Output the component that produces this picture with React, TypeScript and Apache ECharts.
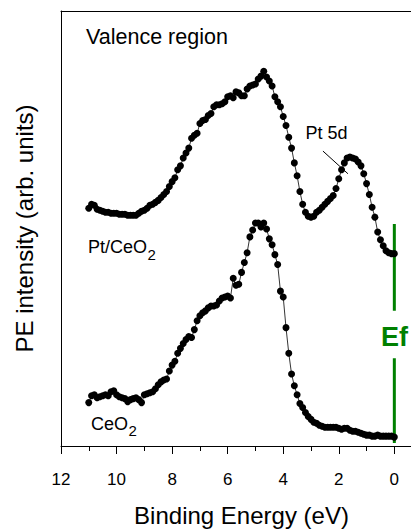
import React, { useEffect, useRef } from "react";
import * as echarts from "echarts";

// Binding energy grid (eV)
const energies = [
  11.0, 10.9, 10.8, 10.7, 10.6, 10.5, 10.4, 10.3, 10.2, 10.1,
  10.0, 9.9, 9.8, 9.7, 9.6, 9.5, 9.4, 9.3, 9.2, 9.1,
  9.0, 8.9, 8.8, 8.7, 8.6, 8.5, 8.4, 8.3, 8.2, 8.1,
  8.0, 7.9, 7.8, 7.7, 7.6, 7.5, 7.4, 7.3, 7.2, 7.1,
  7.0, 6.9, 6.8, 6.7, 6.6, 6.5, 6.4, 6.3, 6.2, 6.1,
  6.0, 5.9, 5.8, 5.7, 5.6, 5.5, 5.4, 5.3, 5.2, 5.1,
  5.0, 4.9, 4.8, 4.7, 4.6, 4.5, 4.4, 4.3, 4.2, 4.1,
  4.0, 3.9, 3.8, 3.7, 3.6, 3.5, 3.4, 3.3, 3.2, 3.1,
  3.0, 2.9, 2.8, 2.7, 2.6, 2.5, 2.4, 2.3, 2.2, 2.1,
  2.0, 1.9, 1.8, 1.7, 1.6, 1.5, 1.4, 1.3, 1.2, 1.1,
  1.0, 0.9, 0.8, 0.7, 0.6, 0.5, 0.4, 0.3, 0.2, 0.1,
  0.0,
];

// Pt/CeO2 spectrum (arb. units, offset)
const ptCeO2 = [
  241, 245, 244, 240, 239, 238, 237, 237, 236, 236,
  236, 235, 235, 235, 234, 234, 234, 234, 236, 238,
  239, 241, 244, 245, 247, 249, 252, 255, 258, 263,
  268, 272, 280, 284, 292, 297, 302, 312, 315, 317,
  327, 330, 331, 335, 337, 344, 346, 346, 347, 349,
  354, 355, 353, 359, 358, 355, 355, 362, 365, 366,
  367, 372, 375, 380, 374, 370, 365, 354, 349, 344,
  334, 325, 313, 302, 287, 274, 258, 245, 237, 233,
  232, 233, 237, 239, 242, 245, 248, 251, 254, 261,
  271, 280, 287, 292, 293, 292, 291, 288, 284, 276,
  266, 255, 242, 232, 217, 209, 203, 198, 196, 195,
  195,
];

// CeO2 spectrum (arb. units)
const ceO2 = [
  44, 51, 52, 49, 50, 51, 52, 51, 55, 56,
  52, 50, 49, 48, 45, 47, 48, 49, 47, 44,
  52, 53, 54, 55, 58, 62, 65, 67, 68, 76,
  82, 86, 94, 99, 104, 108, 111, 110, 118, 127,
  132, 135, 137, 140, 142, 142, 143, 147, 150, 151,
  152, 150, 170, 163, 164, 176, 186, 196, 212, 219,
  226, 226, 222, 226, 220, 210, 204, 194, 184, 157,
  151, 120, 94, 73, 61, 52, 43, 39, 34, 30,
  27, 24, 23, 21, 20, 19, 19, 19, 19, 19,
  18, 17, 18, 18, 16, 15, 15, 14, 13, 12,
  11, 11, 10, 10, 11, 10, 10, 10, 10, 10,
  9,
];

const xMajorTicks = [0, 2, 4, 6, 8, 10, 12];
const xMinorTicks = [1, 3, 5, 7, 9, 11];

// Fermi-level marker segments and Pt 5d pointer (data coordinates)
const fermiUpper = [[0, 225], [0, 137]];
const fermiLower = [[0, 89], [0, 3]];
const pt5dPointer = [[2.57, 299], [1.67, 276]];

const FONT = "'Liberation Sans', Arial, Helvetica, sans-serif";

function textWidth(text: string, size: number): number {
  const c = document.createElement("canvas").getContext("2d");
  if (!c) return text.length * size * 0.55;
  c.font = `${size}px ${FONT}`;
  return c.measureText(text).width;
}

export default function App() {
  const ref = useRef<HTMLDivElement>(null);

  useEffect(() => {
    if (!ref.current) return;
    const chart = echarts.init(ref.current, undefined, { renderer: "svg" });

    const baseX = {
      type: "value",
      min: -0.6,
      max: 12,
      inverse: true,
      splitLine: { show: false },
    };

    const mainSize = 18;
    const subSize = 15;
    const ptLeft = 88;
    const ceLeft = 91;
    const ptSubX = ptLeft + textWidth("Pt/CeO", mainSize) + 0.5;
    const ceSubX = ceLeft + textWidth("CeO", mainSize) + 0.5;

    const txt = (
      text: string,
      x: number,
      y: number,
      size: number,
      extra: Record<string, unknown> = {}
    ) => ({
      type: "text",
      x,
      y,
      z: 10,
      style: {
        text,
        fontFamily: FONT,
        fontSize: size,
        fill: "#000",
        align: "left",
        verticalAlign: "middle",
        ...extra,
      },
    });

    chart.setOption({
      animation: false,
      backgroundColor: "#ffffff",
      grid: { left: 61, top: 11, right: 0, bottom: 80 },
      xAxis: [
        {
          ...baseX,
          position: "bottom",
          name: "Binding Energy (eV)",
          nameLocation: "middle",
          nameGap: 57,
          nameTextStyle: {
            fontFamily: FONT,
            fontSize: 24,
            color: "#000",
            padding: [0, 0, 0, 11],
          },
          axisLine: { show: true, onZero: false, lineStyle: { color: "#000", width: 1 } },
          axisTick: {
            show: true,
            customValues: xMajorTicks,
            length: 8,
            lineStyle: { color: "#000", width: 1 },
          },
          axisLabel: {
            show: true,
            customValues: xMajorTicks,
            margin: 25,
            fontFamily: FONT,
            fontSize: 17,
            color: "#000",
          },
        },
        {
          ...baseX,
          position: "bottom",
          axisLine: { show: false, onZero: false },
          axisTick: {
            show: true,
            customValues: xMinorTicks,
            length: 5,
            lineStyle: { color: "#000", width: 1 },
          },
          axisLabel: { show: false },
        },
        {
          ...baseX,
          position: "top",
          axisLine: { show: true, onZero: false, lineStyle: { color: "#000", width: 1 } },
          axisTick: { show: false },
          axisLabel: { show: false },
        },
      ],
      yAxis: {
        type: "value",
        min: 0,
        max: 441,
        position: "left",
        name: "PE intensity (arb. units)",
        nameLocation: "middle",
        nameGap: 25,
        nameTextStyle: { fontFamily: FONT, fontSize: 24, color: "#000" },
        axisLine: { show: true, onZero: false, lineStyle: { color: "#000", width: 1 } },
        axisTick: { show: false },
        axisLabel: { show: false },
        splitLine: { show: false },
      },
      series: [
        {
          type: "line",
          xAxisIndex: 0,
          data: energies.map((e, i) => [e, ptCeO2[i]]),
          symbol: "circle",
          symbolSize: 7,
          showAllSymbol: true,
          lineStyle: { color: "#000", width: 0.8 },
          itemStyle: { color: "#000" },
          z: 3,
        },
        {
          type: "line",
          xAxisIndex: 0,
          data: energies.map((e, i) => [e, ceO2[i]]),
          symbol: "circle",
          symbolSize: 7,
          showAllSymbol: true,
          lineStyle: { color: "#000", width: 0.8 },
          itemStyle: { color: "#000" },
          z: 3,
        },
        {
          type: "line",
          xAxisIndex: 0,
          data: fermiUpper,
          symbol: "none",
          lineStyle: { color: "#008000", width: 3 },
          z: 2,
        },
        {
          type: "line",
          xAxisIndex: 0,
          data: fermiLower,
          symbol: "none",
          lineStyle: { color: "#008000", width: 3 },
          z: 2,
        },
        {
          type: "line",
          xAxisIndex: 0,
          data: pt5dPointer,
          symbol: "none",
          lineStyle: { color: "#000", width: 1 },
          z: 2,
        },
      ],
      graphic: [
        txt("Valence region", 86, 37, 21.5),
        txt("Pt 5d", 305.5, 133, 18),
        txt("Pt/CeO", ptLeft, 247, mainSize),
        txt("2", ptSubX, 254, subSize),
        txt("CeO", ceLeft, 423.5, mainSize),
        txt("2", ceSubX, 430, subSize),
        {
          type: "text",
          x: 394.5,
          y: 337,
          z: 10,
          style: {
            text: "Ef",
            fontFamily: FONT,
            fontSize: 27,
            fontWeight: "bold",
            fill: "#008000",
            align: "center",
            verticalAlign: "middle",
          },
        },
      ],
    });

    return () => {
      chart.dispose();
    };
  }, []);

  return (
    <div
      ref={ref}
      style={{ position: "fixed", left: 0, top: 0, width: 411, height: 532 }}
    />
  );
}
